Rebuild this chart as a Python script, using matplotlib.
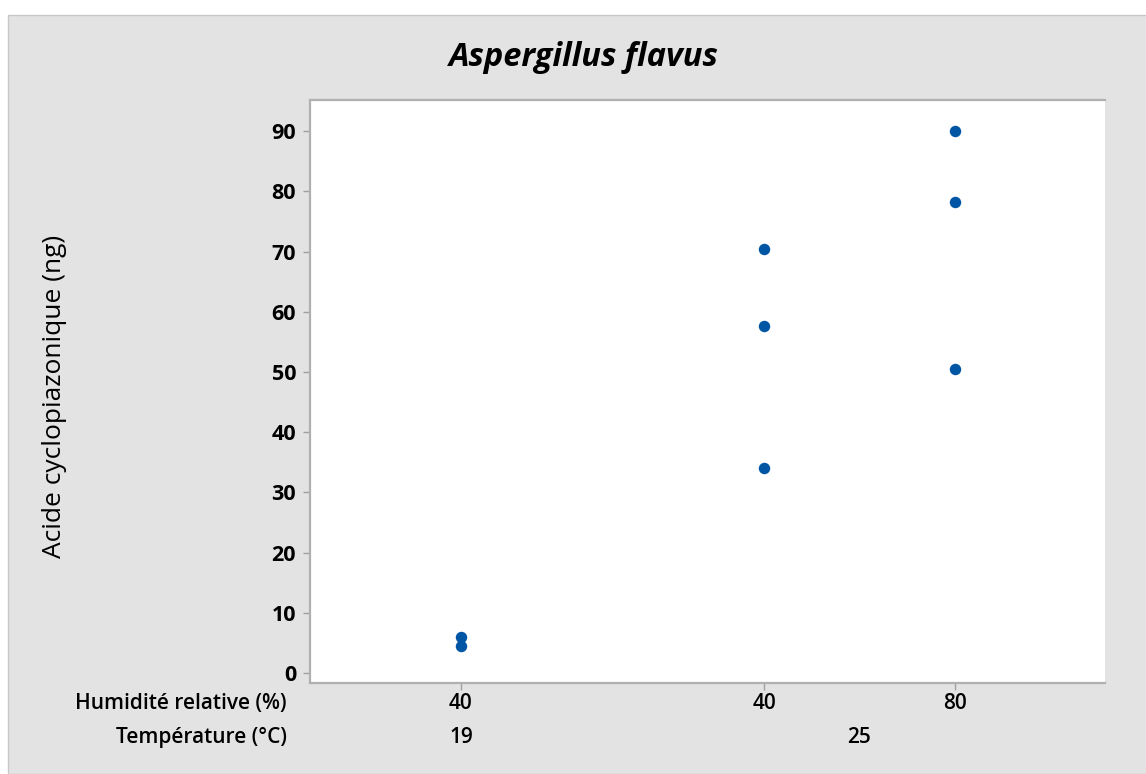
import matplotlib.pyplot as plt
from matplotlib.patches import Rectangle

# ======================== DATA ========================
humidity = ['40', '40', '80']
temperature = ['19', '25']
group_pos = [1.0, 2.0, 2.63]   # Minitab spacing: groups sharing a temperature sit closer
values = [
    [6.0, 4.5],
    [70.5, 57.6, 34.0],
    [90.1, 78.3, 50.5],
]

# ======================== FIGURE ========================
fig = plt.figure(figsize=(11.46, 7.74), dpi=100, facecolor='white')
fig.patches.append(Rectangle((8 / 1146, 0), 1, 1 - 15 / 774, transform=fig.transFigure,
                             facecolor='#e3e3e3', edgecolor='#c8c8c8', lw=1, zorder=-1))

ax = fig.add_axes([310 / 1146, 1 - 683 / 774, 795 / 1146, 583 / 774])
ax.set_facecolor('white')

for pos, vals in zip(group_pos, values):
    ax.scatter([pos] * len(vals), vals, s=68, color='#0055a5', zorder=3, linewidths=0)

ax.set_xlim(0.502, 3.125)
ax.set_ylim(-1.65, 95.2)
ax.set_yticks(range(0, 91, 10))
ax.set_xticks(group_pos)
ax.set_xticklabels([])

for s in ['left', 'bottom', 'top']:
    ax.spines[s].set_color('#b0b0b0')
    ax.spines[s].set_linewidth(1.6)
ax.spines['right'].set_visible(False)
ax.tick_params(axis='both', direction='out', length=5, color='#a0a0a0', width=1)
ax.tick_params(axis='y', labelsize=15.5, pad=5)
for lbl in ax.get_yticklabels():
    lbl.set_fontweight('bold')
    lbl.set_family('Open Sans')

# two-row category labels below the axis
row1_y = 1 - 704 / 774
row2_y = 1 - 737 / 774
tr = ax.get_xaxis_transform()
for pos, h in zip(group_pos, humidity):
    ax.text(pos, -0.036, h, transform=tr, ha='center', va='center', fontsize=15,
            family='Open Sans', fontweight='semibold')
temp_pos = [group_pos[0], (group_pos[1] + group_pos[2]) / 2]
for pos, t in zip(temp_pos, temperature):
    ax.text(pos, -0.093, t, transform=tr, ha='center', va='center', fontsize=15,
            family='Open Sans', fontweight='semibold')

fig.text(287 / 1146, row1_y, 'Humidité relative (%)', ha='right', va='center',
         fontsize=15, family='Open Sans', fontweight='semibold')
fig.text(287 / 1146, row2_y, 'Température (°C)', ha='right', va='center',
         fontsize=15, family='Open Sans', fontweight='semibold')

fig.text(55 / 1146, 1 - 396 / 774, 'Acide cyclopiazonique (ng)', rotation=90,
         ha='center', va='center', fontsize=19, family='Open Sans', fontweight='medium')
fig.text(584 / 1146, 1 - 57 / 774, 'Aspergillus flavus', ha='center', va='center',
         fontsize=23.5, family='Open Sans', fontweight='bold', style='italic')

fig.savefig('out.png', dpi=100, facecolor=fig.get_facecolor())
